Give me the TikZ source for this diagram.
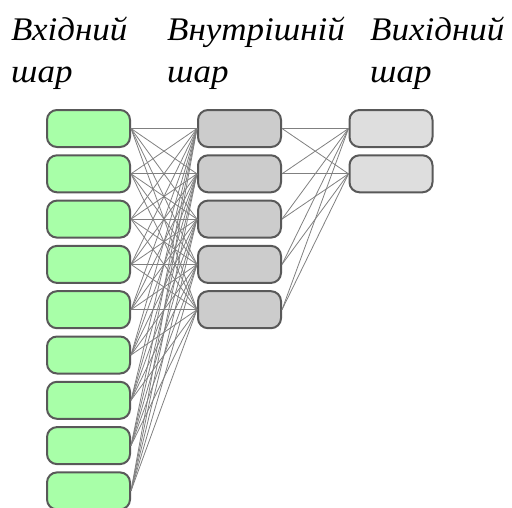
\documentclass[tikz,border=0pt]{standalone}
\usepackage{fontspec}
\setmainfont{Liberation Serif}
\begin{document}
\begin{tikzpicture}[x=1pt,y=-1pt,
  unit/.style={draw=black!65, line width=2pt, rounded corners=10pt,
    minimum width=83pt, minimum height=37pt, inner sep=0pt},
  inunit/.style={unit, fill=inputgreen},
  hidunit/.style={unit, fill=black!20},
  outunit/.style={unit, fill=black!13},
  link/.style={draw=black!50, line width=0.8pt},
  caption/.style={anchor=base west, inner sep=0pt, xscale=1.06,
    font=\fontsize{33}{40}\selectfont\itshape}]
\definecolor{inputgreen}{HTML}{A8FFA8}
\useasboundingbox (0,0) rectangle (512,507);

% layer captions
\node[caption] (t1a) at (11,40) {Вхідний};
\node[caption] (t1b) at (11,82) {шар};
\node[caption] (t2a) at (167,40) {Внутрішній};
\node[caption] (t2b) at (167,82) {шар};
\node[caption] (t3a) at (370,40) {Вихідний};
\node[caption] (t3b) at (370,82) {шар};

% units
\foreach \k in {0,...,8}
  \node[inunit] (i\k) at (88.5,{128.5+45.3*\k}) {};
\foreach \k in {0,...,4}
  \node[hidunit] (h\k) at (239.5,{128.5+45.3*\k}) {};
\foreach \k in {0,1}
  \node[outunit] (o\k) at (391,{128.5+45.3*\k}) {};

% full connections
\foreach \a in {0,...,8}
  \foreach \b in {0,...,4}
    \draw[link] (i\a.east) -- (h\b.west);
\foreach \a in {0,...,4}
  \foreach \b in {0,1}
    \draw[link] (h\a.east) -- (o\b.west);
\end{tikzpicture}
\end{document}
